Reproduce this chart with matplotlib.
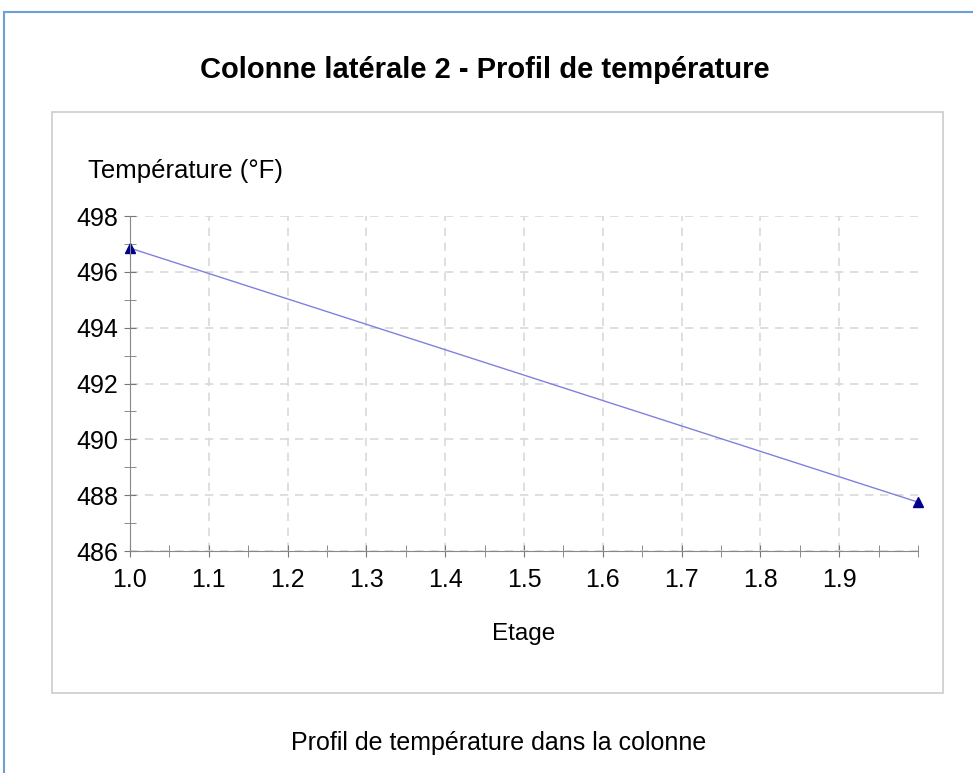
import matplotlib.pyplot as plt
from matplotlib.patches import Rectangle
from matplotlib.ticker import MultipleLocator, FixedLocator

plt.rcParams['font.family'] = ['Liberation Sans', 'DejaVu Sans']

# data
etage = [1.0, 2.0]
temperature = [496.85, 487.75]
xticks = [1.0, 1.1, 1.2, 1.3, 1.4, 1.5, 1.6, 1.7, 1.8, 1.9]

fig = plt.figure(figsize=(9.73, 7.73), dpi=100)

# outer blue frame and inner grey panel
W, H = 973, 773
fig.patches.append(Rectangle((4 / W, -0.1), 1.2, 1 - 12 / H + 0.1, transform=fig.transFigure,
                             fill=False, edgecolor='#6a9fd8', linewidth=1.5))
fig.patches.append(Rectangle((52 / W, 1 - 693 / H), (943 - 52) / W, (693 - 112) / H,
                             transform=fig.transFigure, fill=False, edgecolor='#cccccc', linewidth=1.2))

ax = fig.add_axes([130 / W, 1 - 551 / H, (918 - 130) / W, (551 - 216) / H])
ax.plot(etage, temperature, color='#8080e0', linewidth=1, marker='^', markersize=7,
        markerfacecolor='#00008b', markeredgecolor='#00008b', clip_on=False)

ax.set_xlim(1.0, 2.0)
ax.set_ylim(486, 498)
ax.xaxis.set_major_locator(FixedLocator(xticks))
ax.xaxis.set_minor_locator(MultipleLocator(0.05))
ax.yaxis.set_major_locator(MultipleLocator(2))
ax.yaxis.set_minor_locator(MultipleLocator(1))
ax.set_xticklabels([f'{v:.1f}' for v in xticks])

ax.grid(True, which='major', linestyle=(0, (5, 4)), color='#d9d9d9', linewidth=1.2)
for s in ['top', 'right']:
    ax.spines[s].set_visible(False)
for s in ['left', 'bottom']:
    ax.spines[s].set_color('#888888')
ax.tick_params(which='both', direction='inout', length=9, color='#777777', labelsize=18)
ax.tick_params(axis='x', which='major', pad=8)
ax.tick_params(axis='y', which='major', pad=4)

fig.text(88 / W, 1 - 171 / H, 'Température (°F)', fontsize=18.5, va='center', ha='left')
fig.text(524 / W, 1 - 634 / H, 'Etage', fontsize=17.5, va='center', ha='center')
fig.text(485 / W, 1 - 70 / H, 'Colonne latérale 2 - Profil de température', fontsize=21,
         fontweight='bold', va='center', ha='center')
fig.text(499 / W, 1 - 743 / H, 'Profil de température dans la colonne', fontsize=18,
         va='center', ha='center')

fig.savefig('out.png', dpi=100)
